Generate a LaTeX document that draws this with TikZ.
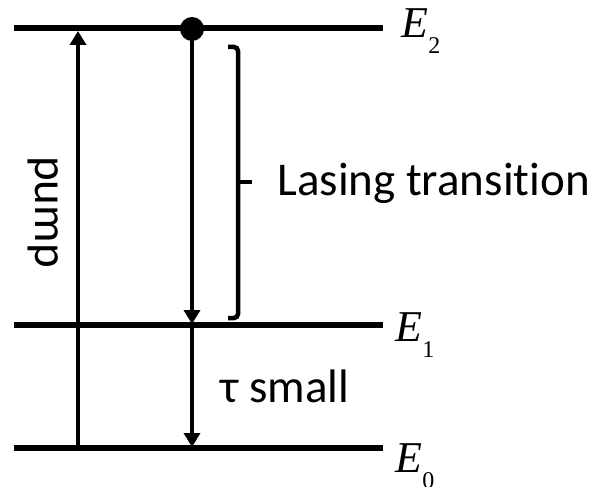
\documentclass[tikz,border=0pt]{standalone}
\usepackage{fontspec}
\setmainfont[Ligatures=NoCommon]{Carlito}
\newfontfamily\timesfont{Liberation Serif}
\usetikzlibrary{arrows.meta, positioning}

\newcommand{\energy}[1]{{\timesfont\fontsize{22}{22}\selectfont\textit{E}\raisebox{-8pt}{\fontsize{12}{12}\selectfont #1}}}

\begin{document}
\begin{tikzpicture}[x=0.5pt, y=-0.5pt,
  level/.style={line width=3pt},
  trans/.style={line width=2.25pt, -{Triangle[length=7pt,width=8pt]}},
  lbl/.style={font=\fontsize{23.5}{24}\selectfont, inner sep=0pt}]
\useasboundingbox (0,0) rectangle (608,486);
% energy levels
\coordinate (l2a) at (14,28);  \coordinate (l2b) at (383,28);
\coordinate (l1a) at (14,325); \coordinate (l1b) at (383,325);
\coordinate (l0a) at (14,448); \coordinate (l0b) at (383,448);
\draw[level] (l2a) -- (l2b);
\draw[level] (l1a) -- (l1b);
\draw[level] (l0a) -- (l0b);
\node[inner sep=0pt, anchor=base west] (e2) at (401,38) {\energy{2}};
\node[inner sep=0pt, anchor=base west] (e1) at (395,341) {\energy{1}};
\node[inner sep=0pt, anchor=base west] (e0) at (395,472) {\energy{0}};

% pump
\coordinate (pumpbot) at (78,448);
\coordinate (pumptop) at (78,31);
\draw[trans] (pumpbot) -- (pumptop);
\node[lbl, rotate=-90] (pump) at (43,212) {pump};

% lasing and decay
\node[circle, fill, inner sep=0pt, minimum size=12pt] (dot) at (192,29) {};
\coordinate (hit1) at (192,324);
\coordinate (hit0) at (192,447);
\draw[trans] (dot.center) -- (hit1);
\draw[trans] (192,325) -- (hit0);

% bracket
\coordinate (brtop) at (238,47);
\coordinate (brbot) at (238,318);
\coordinate (brmid) at (238,182);
\draw[line width=2.25pt, rounded corners=2pt] (228,47) -- (brtop) -- (brbot) -- (228,318);
\draw[line width=2.25pt] (brmid) -- ++(14,0);
\node[lbl, anchor=base west] (lasing) at (277,195) {Lasing transition};
\node[lbl, anchor=base west] (tau) at (220,402) {τ small};
\end{tikzpicture}
\end{document}
